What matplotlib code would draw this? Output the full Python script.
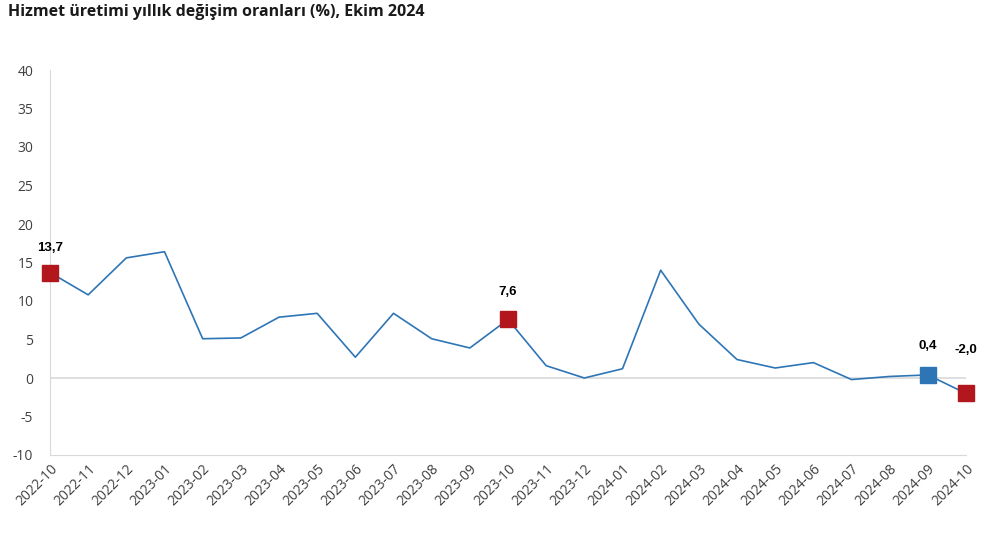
import matplotlib.pyplot as plt

months = ["2022-10", "2022-11", "2022-12", "2023-01", "2023-02", "2023-03", "2023-04",
          "2023-05", "2023-06", "2023-07", "2023-08", "2023-09", "2023-10", "2023-11",
          "2023-12", "2024-01", "2024-02", "2024-03", "2024-04", "2024-05", "2024-06",
          "2024-07", "2024-08", "2024-09", "2024-10"]
values = [13.7, 10.8, 15.6, 16.4, 5.1, 5.2, 7.9, 8.4, 2.7, 8.4, 5.1, 3.9, 7.6, 1.6,
          0.0, 1.2, 14.0, 7.0, 2.4, 1.3, 2.0, -0.2, 0.2, 0.4, -2.0]

red_idx = [0, 12, 24]
blue_idx = [23]
yticks = [-10, -5, 0, 5, 10, 15, 20, 25, 30, 35, 40]

line_col = "#2e75b6"
red_col = "#b2171d"

plt.rcParams["font.family"] = ["Open Sans", "DejaVu Sans"]

fig = plt.figure(figsize=(9.88, 5.56), dpi=100)
ax = fig.add_axes([50 / 988, 1 - 455 / 556, (966 - 50) / 988, (455 - 70) / 556])

x = list(range(len(months)))
ax.plot(x, values, color=line_col, lw=1.2, zorder=3)
ax.axhline(0, color="#d9d9d9", lw=1.2, zorder=1)

for i in red_idx:
    ax.plot(x[i], values[i], marker="s", ms=12, color=red_col, zorder=4, clip_on=False)
for i in blue_idx:
    ax.plot(x[i], values[i], marker="s", ms=12, color=line_col, zorder=4, clip_on=False)

# label offsets (points above the marker)
offs = {0: 18, 12: 20, 23: 21, 24: 31}
for i in red_idx + blue_idx:
    lab = f"{values[i]:.1f}".replace(".", ",")
    ax.annotate(lab, (x[i], values[i]), xytext=(0, offs[i]), textcoords="offset points",
                ha="center", va="center", fontsize=9.5, fontweight="bold",
                family="Liberation Sans", color="black", annotation_clip=False)

ax.set_xlim(0, len(months) - 1)
ax.set_ylim(-10, 40)
ax.set_yticks(yticks)
ax.set_yticklabels([str(v) for v in yticks])
ax.set_xticks(x)
ax.set_xticklabels(months, rotation=45, ha="right", rotation_mode="anchor")

for s in ["top", "right"]:
    ax.spines[s].set_visible(False)
ax.spines["left"].set_color("#d9d9d9")
ax.spines["bottom"].set_color("#d9d9d9")
ax.tick_params(axis="both", length=0, labelsize=10, colors="#404040")
ax.tick_params(axis="y", pad=12)
ax.tick_params(axis="x", pad=5)

fig.text(8 / 988, 1 - 12 / 556, "Hizmet üretimi yıllık değişim oranları (%), Ekim 2024",
         fontsize=11.5, fontweight="bold", color="#1a1a1a", ha="left", va="center")

fig.savefig("out.png", dpi=100)
